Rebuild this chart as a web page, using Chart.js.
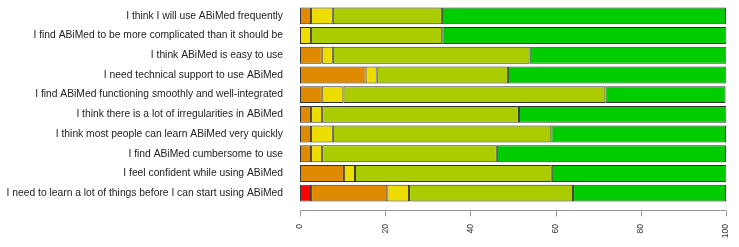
<!DOCTYPE html>
<html>
<head>
<meta charset="utf-8">
<script src="https://cdn.jsdelivr.net/npm/chart.js@4.4.1/dist/chart.umd.min.js"></script>
<style>
  html, body { margin: 0; padding: 0; background: #fff; }
  #wrap { width: 739px; height: 247px; }
</style>
</head>
<body>
<div id="wrap"><canvas id="sus"></canvas></div>
<script>
const statements = [
  'I think I will use ABiMed frequently',
  'I find ABiMed to be more complicated than it should be',
  'I think ABiMed is easy to use',
  'I need technical support to use ABiMed',
  'I find ABiMed functioning smoothly and well-integrated',
  'I think there is a lot of irregularities in ABiMed',
  'I think most people can learn ABiMed very quickly',
  'I find ABiMed cumbersome to use',
  'I feel confident while using ABiMed',
  'I need to learn a lot of things before I can start using ABiMed'
];

// share of answers (%) per level, one value per statement
const level1 = [0, 0, 0, 0, 0, 0, 0, 0, 0, 2.6];
const level2 = [2.6, 0, 5.1, 15.4, 5.1, 2.6, 2.6, 2.6, 10.3, 17.9];
const level3 = [5.1, 2.6, 2.6, 2.6, 5.1, 2.6, 5.1, 2.6, 2.6, 5.1];
const level4 = [25.6, 30.8, 46.2, 30.8, 61.5, 46.2, 51.3, 41.0, 46.2, 38.5];
const level5 = [66.7, 66.7, 46.2, 51.3, 28.2, 48.7, 41.0, 53.8, 41.0, 35.9];

const xTicks = [0, 20, 40, 60, 80, 100];

const colors = ['#ff0000', '#df8a00', '#eedd00', '#aacc00', '#00cc00'];

// R-style detached x axis, drawn a few px below the bars
const detachedAxis = {
  id: 'detachedAxis',
  afterDraw(chart) {
    const ctx = chart.ctx;
    const x = chart.scales.x;
    const y0 = Math.round(chart.chartArea.bottom + 7) + 0.5;
    ctx.save();
    ctx.strokeStyle = '#999999';
    ctx.lineWidth = 1;
    ctx.beginPath();
    ctx.moveTo(x.getPixelForValue(xTicks[0]), y0);
    ctx.lineTo(x.getPixelForValue(xTicks[xTicks.length - 1]), y0);
    xTicks.forEach(t => {
      const px = Math.round(x.getPixelForValue(t)) + 0.5;
      ctx.moveTo(px, y0);
      ctx.lineTo(px, y0 + 6);
    });
    ctx.stroke();
    ctx.restore();
  }
};

function noPadding(axis) {
  axis.paddingTop = 0;
  axis.paddingBottom = 0;
  axis.paddingLeft = 0;
  axis.paddingRight = 0;
}

const levels = [level1, level2, level3, level4, level5];

new Chart(document.getElementById('sus'), {
  type: 'bar',
  data: {
    labels: statements,
    datasets: levels.map((vals, i) => ({
      label: 'level ' + (i + 1),
      data: vals,
      backgroundColor: colors[i],
      borderColor: '#333333',
      borderWidth: 1,
      borderSkipped: false,
      barPercentage: 0.86,
      categoryPercentage: 1
    }))
  },
  options: {
    indexAxis: 'y',
    responsive: true,
    maintainAspectRatio: false,
    animation: false,
    layout: { padding: { top: 6, right: 13, bottom: 0, left: 0 } },
    plugins: { legend: { display: false }, tooltip: { enabled: false } },
    scales: {
      x: {
        stacked: true,
        min: 0,
        max: 100,
        afterBuildTicks: (axis) => { axis.ticks = xTicks.map(v => ({ value: v })); },
        afterFit: (axis) => { axis.height = 44; noPadding(axis); },
        grid: { display: false },
        border: { display: false },
        ticks: {
          color: '#333',
          padding: 13,
          minRotation: 90,
          maxRotation: 90,
          font: { family: 'Liberation Sans', size: 8.5 }
        }
      },
      y: {
        stacked: true,
        afterFit: (axis) => { axis.width = 300; noPadding(axis); },
        grid: { display: false },
        border: { display: false },
        ticks: {
          color: '#222',
          padding: 9,
          autoSkip: false,
          font: { family: 'Liberation Sans', size: 10.3 }
        }
      }
    }
  },
  plugins: [detachedAxis]
});
</script>
</body>
</html>
